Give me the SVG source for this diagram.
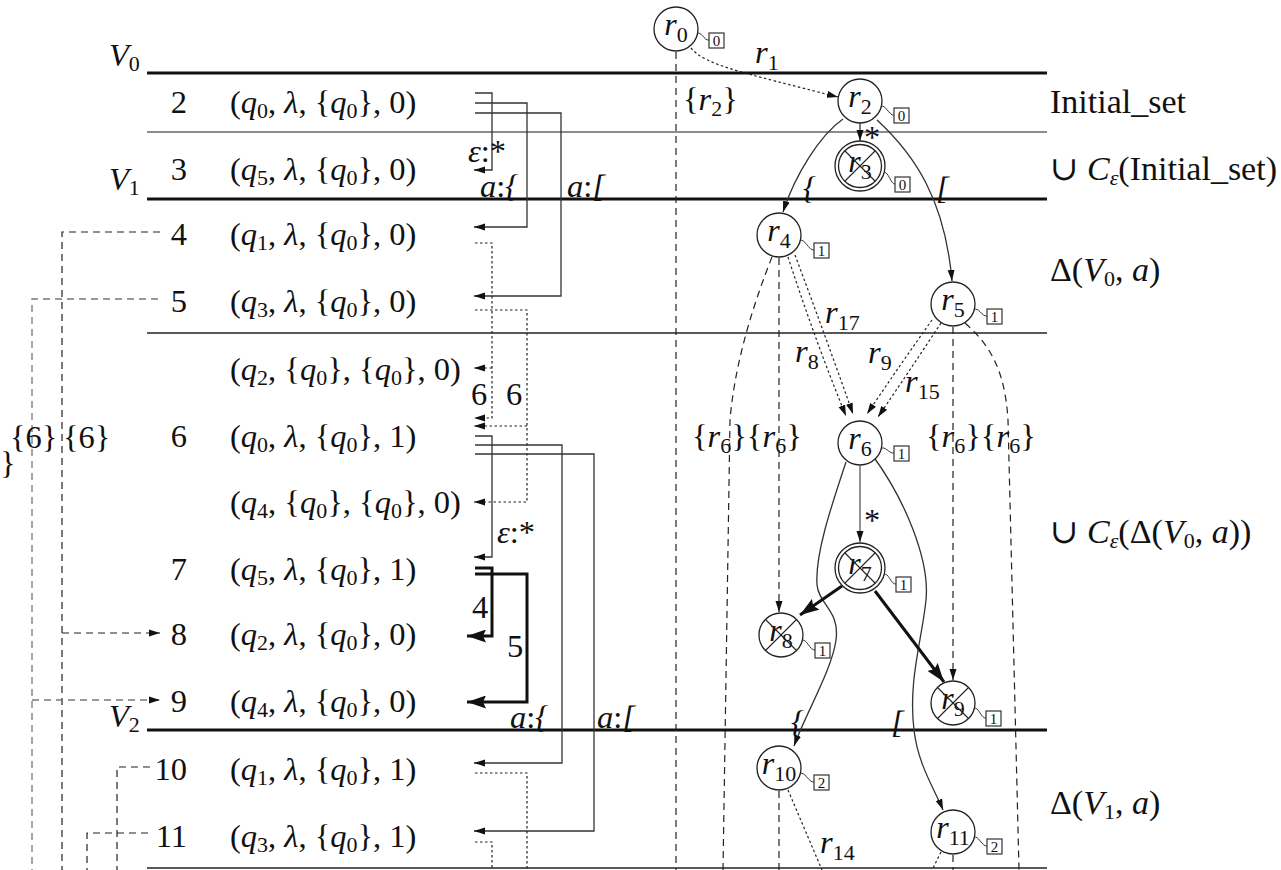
<svg xmlns="http://www.w3.org/2000/svg" width="1281" height="870" viewBox="0 0 1281 870">
<style>
.t{font-family:"Liberation Serif","DejaVu Serif",serif;font-size:32.5px;fill:#111}
.r{font-size:34px}
.i{font-style:italic}
.s{font-size:22px}
.nl{font-family:"Liberation Serif","DejaVu Serif",serif;font-size:32px;fill:#111;text-anchor:middle}
.bx{fill:#fff;stroke:#333;stroke-width:1.2}
.bt{font-family:"Liberation Serif",serif;font-size:15px;fill:#111;text-anchor:middle}
.c{fill:#fff;stroke:#222;stroke-width:1.3}
.x{stroke:#222;stroke-width:1.1}
.sq{fill:none;stroke:#333;stroke-width:1}
.hk{stroke:#111;stroke-width:3.2}
.hn{stroke:#666;stroke-width:1.5}
.hd{stroke:#222;stroke-width:1.5}
.sl{fill:none;stroke:#333;stroke-width:1.3}
.sg{fill:none;stroke:#777;stroke-width:1.6}
.dt{fill:none;stroke:#222;stroke-width:1.2;stroke-dasharray:2.5,2.5}
.ds{fill:none;stroke:#222;stroke-width:1.2;stroke-dasharray:7,5}
.dg{fill:none;stroke:#777;stroke-width:1.3;stroke-dasharray:7,5}
.tk{fill:none;stroke:#111;stroke-width:3}
</style>
<defs>
<marker id="a" viewBox="0 0 11 8" markerWidth="11" markerHeight="8" refX="11" refY="4" orient="auto" markerUnits="userSpaceOnUse"><path d="M0,0.5 L11,4 L0,7.5 z" fill="#111"/></marker>
<marker id="ab" viewBox="0 0 19 13" markerWidth="19" markerHeight="13" refX="19" refY="6.5" orient="auto" markerUnits="userSpaceOnUse"><path d="M0,0 L19,6.5 L0,13 L3,6.5 z" fill="#111"/></marker>
</defs>
<rect width="1281" height="870" fill="#fff"/>

<g id="bands">
<line class="hk" x1="147" y1="73" x2="1047" y2="73"/>
<line class="hn" x1="147" y1="132" x2="1047" y2="132"/>
<line class="hk" x1="147" y1="199" x2="1047" y2="199"/>
<line class="hd" x1="147" y1="333" x2="1047" y2="333"/>
<line class="hk" x1="147" y1="730" x2="1047" y2="730"/>
<line class="hd" x1="147" y1="868" x2="1047" y2="868"/>
<text class="t" x="109" y="66"><tspan class="i">V</tspan><tspan class="s" dy="5">0</tspan></text>
<text class="t" x="109" y="190"><tspan class="i">V</tspan><tspan class="s" dy="5">1</tspan></text>
<text class="t" x="109" y="727"><tspan class="i">V</tspan><tspan class="s" dy="5">2</tspan></text>
<text class="t r" x="1050" y="113">Initial_set</text>
<text class="t r" x="1050" y="180">∪ <tspan class="i">C</tspan><tspan class="s i" dy="5">ε</tspan><tspan dy="-5">(Initial_set)</tspan></text>
<text class="t r" x="1050" y="281">Δ(<tspan class="i">V</tspan><tspan class="s" dy="5">0</tspan><tspan dy="-5">, </tspan><tspan class="i">a</tspan>)</text>
<text class="t r" x="1050" y="543">∪ <tspan class="i">C</tspan><tspan class="s i" dy="5">ε</tspan><tspan dy="-5">(Δ(</tspan><tspan class="i">V</tspan><tspan class="s" dy="5">0</tspan><tspan dy="-5">, </tspan><tspan class="i">a</tspan>))</text>
<text class="t r" x="1050" y="814">Δ(<tspan class="i">V</tspan><tspan class="s" dy="5">1</tspan><tspan dy="-5">, </tspan><tspan class="i">a</tspan>)</text>
</g>

<g id="rows">
<text class="t" x="187" y="113" text-anchor="end">2</text>
<text class="t" x="230" y="113">(<tspan class="i">q</tspan><tspan class="s" dy="5">0</tspan><tspan dy="-5">, </tspan><tspan class="i">λ</tspan>, {<tspan class="i">q</tspan><tspan class="s" dy="5">0</tspan><tspan dy="-5">}, 0)</tspan></text>
<text class="t" x="187" y="180" text-anchor="end">3</text>
<text class="t" x="230" y="180">(<tspan class="i">q</tspan><tspan class="s" dy="5">5</tspan><tspan dy="-5">, </tspan><tspan class="i">λ</tspan>, {<tspan class="i">q</tspan><tspan class="s" dy="5">0</tspan><tspan dy="-5">}, 0)</tspan></text>
<text class="t" x="187" y="245" text-anchor="end">4</text>
<text class="t" x="230" y="245">(<tspan class="i">q</tspan><tspan class="s" dy="5">1</tspan><tspan dy="-5">, </tspan><tspan class="i">λ</tspan>, {<tspan class="i">q</tspan><tspan class="s" dy="5">0</tspan><tspan dy="-5">}, 0)</tspan></text>
<text class="t" x="187" y="312" text-anchor="end">5</text>
<text class="t" x="230" y="312">(<tspan class="i">q</tspan><tspan class="s" dy="5">3</tspan><tspan dy="-5">, </tspan><tspan class="i">λ</tspan>, {<tspan class="i">q</tspan><tspan class="s" dy="5">0</tspan><tspan dy="-5">}, 0)</tspan></text>
<text class="t" x="230" y="380">(<tspan class="i">q</tspan><tspan class="s" dy="5">2</tspan><tspan dy="-5">, {</tspan><tspan class="i">q</tspan><tspan class="s" dy="5">0</tspan><tspan dy="-5">}, {</tspan><tspan class="i">q</tspan><tspan class="s" dy="5">0</tspan><tspan dy="-5">}, 0)</tspan></text>
<text class="t" x="187" y="447" text-anchor="end">6</text>
<text class="t" x="230" y="447">(<tspan class="i">q</tspan><tspan class="s" dy="5">0</tspan><tspan dy="-5">, </tspan><tspan class="i">λ</tspan>, {<tspan class="i">q</tspan><tspan class="s" dy="5">0</tspan><tspan dy="-5">}, 1)</tspan></text>
<text class="t" x="230" y="513">(<tspan class="i">q</tspan><tspan class="s" dy="5">4</tspan><tspan dy="-5">, {</tspan><tspan class="i">q</tspan><tspan class="s" dy="5">0</tspan><tspan dy="-5">}, {</tspan><tspan class="i">q</tspan><tspan class="s" dy="5">0</tspan><tspan dy="-5">}, 0)</tspan></text>
<text class="t" x="187" y="580" text-anchor="end">7</text>
<text class="t" x="230" y="580">(<tspan class="i">q</tspan><tspan class="s" dy="5">5</tspan><tspan dy="-5">, </tspan><tspan class="i">λ</tspan>, {<tspan class="i">q</tspan><tspan class="s" dy="5">0</tspan><tspan dy="-5">}, 1)</tspan></text>
<text class="t" x="187" y="645" text-anchor="end">8</text>
<text class="t" x="230" y="645">(<tspan class="i">q</tspan><tspan class="s" dy="5">2</tspan><tspan dy="-5">, </tspan><tspan class="i">λ</tspan>, {<tspan class="i">q</tspan><tspan class="s" dy="5">0</tspan><tspan dy="-5">}, 0)</tspan></text>
<text class="t" x="187" y="712" text-anchor="end">9</text>
<text class="t" x="230" y="712">(<tspan class="i">q</tspan><tspan class="s" dy="5">4</tspan><tspan dy="-5">, </tspan><tspan class="i">λ</tspan>, {<tspan class="i">q</tspan><tspan class="s" dy="5">0</tspan><tspan dy="-5">}, 0)</tspan></text>
<text class="t" x="187" y="780" text-anchor="end">10</text>
<text class="t" x="230" y="780">(<tspan class="i">q</tspan><tspan class="s" dy="5">1</tspan><tspan dy="-5">, </tspan><tspan class="i">λ</tspan>, {<tspan class="i">q</tspan><tspan class="s" dy="5">0</tspan><tspan dy="-5">}, 1)</tspan></text>
<text class="t" x="187" y="847" text-anchor="end">11</text>
<text class="t" x="230" y="847">(<tspan class="i">q</tspan><tspan class="s" dy="5">3</tspan><tspan dy="-5">, </tspan><tspan class="i">λ</tspan>, {<tspan class="i">q</tspan><tspan class="s" dy="5">0</tspan><tspan dy="-5">}, 1)</tspan></text>
</g>

<g id="connectors">
<path class="ds" d="M160,232 H62 V870"/>
<path class="ds" d="M62,633 H160" marker-end="url(#a)"/>
<path class="dg" d="M158,299 H32 V870"/>
<path class="dg" d="M32,700 H160" marker-end="url(#a)"/>
<path class="ds" d="M150,767 H117 V870"/>
<path class="ds" d="M148,833 H87 V870"/>
<path class="sl" d="M475,93 H492 V170 H474" marker-end="url(#a)"/>
<path class="sl" d="M475,103 H527 V227 H474" marker-end="url(#a)"/>
<path class="sl" d="M475,113 H561 V296 H474" marker-end="url(#a)"/>
<path class="dt" d="M475,243 H492 V418 H474" marker-end="url(#a)"/>
<path class="dt" d="M492,368 H474" marker-end="url(#a)"/>
<path class="dt" d="M475,310 H527 V502 H474" marker-end="url(#a)"/>
<path class="dt" d="M527,426 H474" marker-end="url(#a)"/>
<path class="sl" d="M475,436 H492 V557 H474" marker-end="url(#a)"/>
<path class="sl" d="M475,445 H562 V763 H474" marker-end="url(#a)"/>
<path class="sl" d="M475,454 H594 V831 H474" marker-end="url(#a)"/>
<path class="tk" d="M475,568 H492 V636 H467" marker-end="url(#ab)"/>
<path class="tk" d="M475,574 H527 V702 H467" marker-end="url(#ab)"/>
<path class="dt" d="M475,773 H527 V870"/>
<path class="dt" d="M475,842 H492 V870"/>
<text class="t" x="468" y="162"><tspan class="i">ε</tspan>:*</text>
<text class="t" x="480" y="197"><tspan class="i">a</tspan>:<tspan class="i">{</tspan></text>
<text class="t" x="567" y="197"><tspan class="i">a</tspan>:<tspan class="i">[</tspan></text>
<text class="t" x="471" y="405">6</text>
<text class="t" x="506" y="405">6</text>
<text class="t" x="497" y="543"><tspan class="i">ε</tspan>:*</text>
<text class="t" x="472" y="618">4</text>
<text class="t" x="507" y="657">5</text>
<text class="t" x="510" y="728"><tspan class="i">a</tspan>:<tspan class="i">{</tspan></text>
<text class="t" x="597" y="728"><tspan class="i">a</tspan>:<tspan class="i">[</tspan></text>
<text class="t" x="10" y="448">{6}</text>
<text class="t" x="63" y="448">{6}</text>
<text class="t" x="0" y="474" font-size="26">}</text>

<path class="ds" d="M676,52 V870"/>
<text class="t" x="683" y="110">{<tspan class="i">r</tspan><tspan class="s" dy="6">2</tspan><tspan dy="-6">}</tspan></text>
<path class="dt" d="M691,48 C705,65 740,72 838,97" marker-end="url(#a)"/>
<text class="t" x="755" y="63"><tspan class="i">r</tspan><tspan class="s" dy="7">1</tspan></text>
<path class="sl" d="M860,123 V141" marker-end="url(#a)"/>
<text class="t" x="864" y="148" font-size="28">*</text>
<path class="sl" d="M843,119 C820,135 795,175 783,212" marker-end="url(#a)"/>
<path class="sl" d="M877,120 C915,155 945,200 952,281" marker-end="url(#a)"/>
<text class="t i" x="803" y="199">{</text>
<text class="t i" x="936" y="199">[</text>
<path class="ds" d="M779,258 V612" marker-end="url(#a)"/>
<path class="ds" d="M772,257 C755,300 735,360 730,420 L723,870"/>
<path class="dt" d="M788,257 Q815,340 846,416" marker-end="url(#a)"/>
<path class="dt" d="M795,255 Q825,335 853,414" marker-end="url(#a)"/>
<text class="t" x="825" y="323"><tspan class="i">r</tspan><tspan class="s" dy="7">17</tspan></text>
<text class="t" x="795" y="362"><tspan class="i">r</tspan><tspan class="s" dy="7">8</tspan></text>
<path class="dt" d="M932,320 Q900,365 867,414" marker-end="url(#a)"/>
<path class="dt" d="M941,323 Q910,370 878,417" marker-end="url(#a)"/>
<text class="t" x="868" y="363"><tspan class="i">r</tspan><tspan class="s" dy="7">9</tspan></text>
<text class="t" x="905" y="392"><tspan class="i">r</tspan><tspan class="s" dy="7">15</tspan></text>
<path class="ds" d="M953,327 V680" marker-end="url(#a)"/>
<path class="ds" d="M965,323 C990,345 1005,370 1008,420 L1019,870"/>
<text class="t" x="692" y="447">{<tspan class="i">r</tspan><tspan class="s" dy="6">6</tspan><tspan dy="-6">}{</tspan><tspan class="i">r</tspan><tspan class="s" dy="6">6</tspan><tspan dy="-6">}</tspan></text>
<text class="t" x="926" y="447">{<tspan class="i">r</tspan><tspan class="s" dy="6">6</tspan><tspan dy="-6">}{</tspan><tspan class="i">r</tspan><tspan class="s" dy="6">6</tspan><tspan dy="-6">}</tspan></text>
<path class="sg" d="M860,466 V542" marker-end="url(#a)"/>
<text class="t" x="864" y="531" font-size="28">*</text>
<path class="sl" d="M846,462 C830,510 815,555 817,585 C819,605 840,610 836,640 C832,670 805,715 794,746" marker-end="url(#a)"/>
<path class="sl" d="M873,456 C905,500 930,560 926,600 C922,640 908,680 914,730 C918,765 935,790 943,810" marker-end="url(#a)"/>
<text class="t i" x="791" y="733">{</text>
<text class="t i" x="891" y="733">[</text>
<path class="tk" d="M842,586 L800,615" marker-end="url(#ab)"/>
<path class="tk" d="M875,591 L944,682" marker-end="url(#ab)"/>
<path class="ds" d="M779,791 V870"/>
<path class="dt" d="M788,790 L822,870"/>
<text class="t" x="820" y="853"><tspan class="i">r</tspan><tspan class="s" dy="7">14</tspan></text>
<path class="ds" d="M953,855 V870"/>
<path class="dt" d="M941,852 L932,870"/>
</g>

<g id="r0"><circle class="c" cx="676" cy="29" r="22"/><text class="nl" x="676" y="35"><tspan class="i">r</tspan><tspan class="s" dy="7">0</tspan></text><path class="sq" d="M697,34 C701,30 704,41 709,40"/><rect class="bx" x="709" y="33" width="15" height="15"/><text class="bt" x="716.5" y="46">0</text></g>
<g id="r2"><circle class="c" cx="860" cy="101" r="22"/><text class="nl" x="860" y="107"><tspan class="i">r</tspan><tspan class="s" dy="7">2</tspan></text><path class="sq" d="M881,107 C885,103 889,116 894,115"/><rect class="bx" x="894" y="108" width="15" height="15"/><text class="bt" x="901.5" y="121">0</text></g>
<g id="r3"><circle class="c" cx="860" cy="166" r="25"/><circle class="c" cx="860" cy="166" r="21.5"/><text class="nl" x="860" y="172"><tspan class="i">r</tspan><tspan class="s" dy="7">3</tspan></text><line class="x" x1="845" y1="151" x2="875" y2="181"/><line class="x" x1="875" y1="151" x2="845" y2="181"/><path class="sq" d="M884,173 C888,170 891,185 895,184"/><rect class="bx" x="895" y="177" width="15" height="15"/><text class="bt" x="902.5" y="190">0</text></g>
<g id="r4"><circle class="c" cx="779" cy="235" r="22"/><text class="nl" x="779" y="241"><tspan class="i">r</tspan><tspan class="s" dy="7">4</tspan></text><path class="sq" d="M800,241 C804,237 809,251 814,250"/><rect class="bx" x="814" y="243" width="15" height="15"/><text class="bt" x="821.5" y="256">1</text></g>
<g id="r5"><circle class="c" cx="953" cy="304" r="22"/><text class="nl" x="953" y="310"><tspan class="i">r</tspan><tspan class="s" dy="7">5</tspan></text><path class="sq" d="M974,310 C978,306 982,317 987,316"/><rect class="bx" x="987" y="309" width="15" height="15"/><text class="bt" x="994.5" y="322">1</text></g>
<g id="r6"><circle class="c" cx="860" cy="443" r="22"/><text class="nl" x="860" y="449"><tspan class="i">r</tspan><tspan class="s" dy="7">6</tspan></text><path class="sq" d="M881,449 C885,445 889,454 894,453"/><rect class="bx" x="894" y="446" width="15" height="15"/><text class="bt" x="901.5" y="459">1</text></g>
<g id="r7"><circle class="c" cx="860" cy="568" r="25"/><circle class="c" cx="860" cy="568" r="21.5"/><text class="nl" x="860" y="574"><tspan class="i">r</tspan><tspan class="s" dy="7">7</tspan></text><line class="x" x1="845" y1="553" x2="875" y2="583"/><line class="x" x1="875" y1="553" x2="845" y2="583"/><path class="sq" d="M884,575 C888,571 891,585 896,584"/><rect class="bx" x="896" y="577" width="15" height="15"/><text class="bt" x="903.5" y="590">1</text></g>
<g id="r8"><circle class="c" cx="781" cy="635" r="22"/><text class="nl" x="781" y="641"><tspan class="i">r</tspan><tspan class="s" dy="7">8</tspan></text><line class="x" x1="765.5" y1="619.5" x2="796.5" y2="650.5"/><line class="x" x1="796.5" y1="619.5" x2="765.5" y2="650.5"/><path class="sq" d="M802,641 C806,637 810,651 815,650"/><rect class="bx" x="815" y="643" width="15" height="15"/><text class="bt" x="822.5" y="656">1</text></g>
<g id="r9"><circle class="c" cx="953" cy="703" r="22"/><text class="nl" x="953" y="709"><tspan class="i">r</tspan><tspan class="s" dy="7">9</tspan></text><line class="x" x1="937.5" y1="687.5" x2="968.5" y2="718.5"/><line class="x" x1="968.5" y1="687.5" x2="937.5" y2="718.5"/><path class="sq" d="M974,709 C978,705 981,719 986,718"/><rect class="bx" x="986" y="711" width="15" height="15"/><text class="bt" x="993.5" y="724">1</text></g>
<g id="r10"><circle class="c" cx="779" cy="768" r="22"/><text class="nl" x="779" y="774"><tspan class="i">r</tspan><tspan class="s" dy="7">10</tspan></text><path class="sq" d="M800,774 C804,770 809,783 814,782"/><rect class="bx" x="814" y="775" width="15" height="15"/><text class="bt" x="821.5" y="788">2</text></g>
<g id="r11"><circle class="c" cx="953" cy="832" r="22"/><text class="nl" x="953" y="838"><tspan class="i">r</tspan><tspan class="s" dy="7">11</tspan></text><path class="sq" d="M974,838 C978,834 982,847 987,846"/><rect class="bx" x="987" y="839" width="15" height="15"/><text class="bt" x="994.5" y="852">2</text></g>
</svg>
